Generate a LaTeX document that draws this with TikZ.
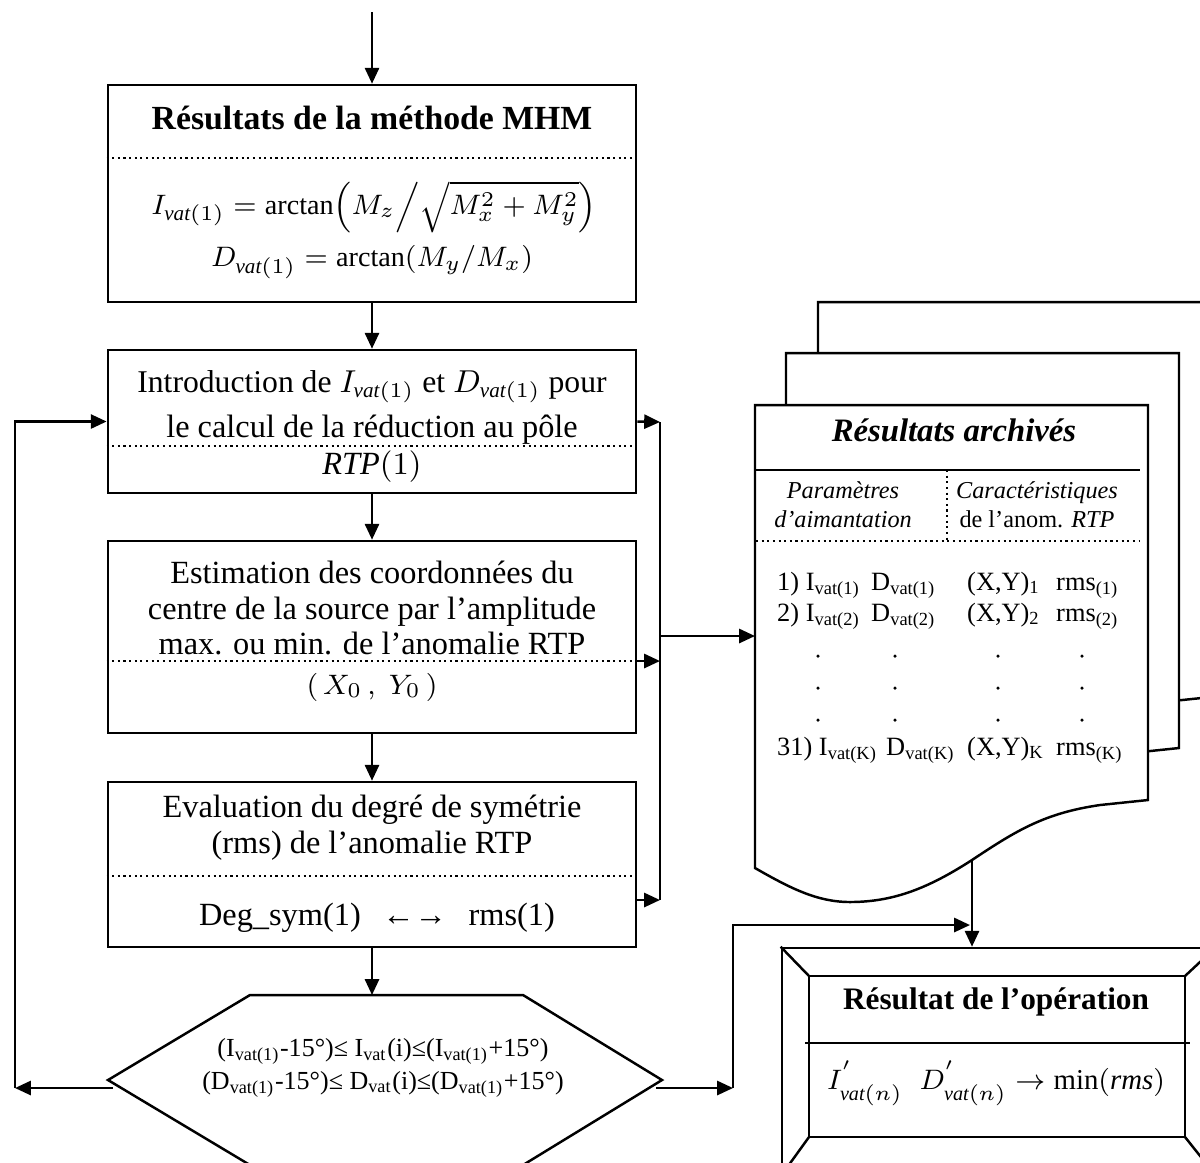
\documentclass[tikz,border=0pt]{standalone}
\usepackage{amsmath}
\usepackage{amssymb}
\usepackage{fontspec}
\setmainfont{Liberation Serif}
\usepackage{tikz}
\usetikzlibrary{arrows.meta}

\begin{document}
\begin{tikzpicture}[x=0.01cm, y=-0.01cm, line width=0.7pt,
  font=\fontsize{9.2}{10.2}\selectfont,
  procbox/.style={draw, minimum width=5.28cm, inner sep=0pt},
  divider/.style={line width=0.6pt, densely dotted},
  link/.style={-{Triangle[length=4.5pt,width=4pt]}},
  headfont/.style={font=\fontsize{9.6}{11}\selectfont\bfseries},
  mathfont/.style={font=\fontsize{8}{10}\selectfont},
  rowcell/.style={anchor=base west, inner sep=0pt, font=\fontsize{7.5}{9}\selectfont}]
  \useasboundingbox (0,0) rectangle (1200,1162);
  \clip (0,0) rectangle (1200,1162);

  % left column -- processing boxes
  \node[procbox, minimum height=2.17cm] (mhm) at (372,193.5) {};
  \draw[divider] (mhm.west |- 0,158) -- (mhm.east |- 0,158);
  \node[headfont] (mhmtitle) at (372,118) {Résultats de la méthode MHM};
  \node[mathfont] (mhmI) at (374,207) {$I_{\mathit{vat}(1)} = \arctan\!\left(M_z\middle/\sqrt{M_x^2+M_y^2}\right)$};
  \node[mathfont] (mhmD) at (372,262) {$D_{\mathit{vat}(1)} = \arctan(M_y/M_x)$};

  \node[procbox, minimum height=1.43cm] (intro) at (372,421.5) {};
  \draw[divider] (intro.west |- 0,446) -- (intro.east |- 0,446);
  \node[font=\fontsize{9}{10.2}\selectfont] (introA) at (372,387) {Introduction de $I_{\mathit{vat}(1)}$ et $D_{\mathit{vat}(1)}$ pour};
  \node (introB) at (372,430) {le calcul de la réduction au pôle};
  \node (introC) at (372,467) {$\mathit{RTP}(1)$};

  \node[procbox, minimum height=1.92cm] (estim) at (372,637) {};
  \draw[divider] (estim.west |- 0,661) -- (estim.east |- 0,661);
  \node[align=center] (estimA) at (372,608) {Estimation des coordonnées du\\centre de la source par l’amplitude\\max. ou min. de l’anomalie RTP};
  \node[mathfont] (estimB) at (372,687) {$(\,X_0\,,\;Y_0\,)$};

  \node[procbox, minimum height=1.65cm] (evalsym) at (372,864.5) {};
  \draw[divider] (evalsym.west |- 0,876) -- (evalsym.east |- 0,876);
  \node[align=center] (evalA) at (372,828) {Evaluation du degré de symétrie\\(rms) de l’anomalie RTP};
  \node (evalB) at (377,918) {Deg\_sym(1) \ \,←→\ \, rms(1)};

  % test on the inclination / declination range
  \draw (250,995) coordinate (hexN) -- (523,995) -- (662,1080) -- (523,1165) -- (250,1165) -- (108,1080) -- cycle;
  \coordinate (hexL) at (113,1088);
  \coordinate (hexR) at (656,1088);
  \node[font=\fontsize{7.4}{9.3}\selectfont, align=center] (cond) at (383,1068)
    {(I\textsubscript{vat(1)}-15°)≤ I\textsubscript{vat}(i)≤(I\textsubscript{vat(1)}+15°)\\
     (D\textsubscript{vat(1)}-15°)≤ D\textsubscript{vat}(i)≤(D\textsubscript{vat(1)}+15°)};

  % stacked sheets of archived results
  \foreach \dx/\dy in {63/-103, 31/-52, 0/0}
    \draw[fill=white, shift={(755+\dx,405+\dy)}] (0,0) -- (393,0) -- (393,395) -- (345,400)
      .. controls (290,408) and (262,425) .. (217,455)
      .. controls (175,482) and (140,497) .. (95,497)
      .. controls (62,497) and (35,483) .. (0,463) -- cycle;
  \coordinate (docin) at (755,636);
  \coordinate (docout) at (972,859);
  \node[font=\fontsize{9.3}{11}\selectfont\bfseries\itshape] (archtitle) at (954,430) {Résultats archivés};
  \draw (756,470) -- (1140,470);
  \draw[divider] (947,470) -- (947,541);
  \draw[divider] (756,541) -- (1140,541);
  \node[font=\fontsize{6.9}{8.2}\selectfont\itshape, align=center] (paramhd) at (843,505) {Paramètres\\d’aimantation};
  \node[font=\fontsize{6.9}{8.2}\selectfont, align=center] (carhd) at (1037,505) {\textit{Caractéristiques}\\de l’anom. \textit{RTP}};
  \foreach \n/\k/\yy/\xd in {1/1/590/870, 2/2/621/870, 31/K/755/885} {
    \node[rowcell] (rowI\n) at (776,\yy) {\n) I\textsubscript{vat(\k)}};
    \node[rowcell] (rowD\n) at (\xd,\yy) {D\textsubscript{vat(\k)}};
    \node[rowcell] (rowX\n) at (966,\yy) {(X,Y)\textsubscript{\k}};
    \node[rowcell] (rowR\n) at (1055,\yy) {rms\textsubscript{(\k)}};
  }
  \foreach \yy in {656, 688, 720}
    \foreach \xx in {818, 895, 998, 1082}
      \fill (\xx,\yy) circle (0.5pt);

  % final result frame
  \node[draw, minimum width=4.33cm, minimum height=2.27cm, inner sep=0pt] (res) at (998.5,1061.5) {};
  \draw (809,976) rectangle (1185,1137);
  \draw (res.north west) -- (809,976);
  \draw (res.south west) -- (809,1137);
  \draw (res.north east) -- (1185,976);
  \draw (res.south east) -- (1185,1137);
  \draw (805,1043) -- (1190,1043);
  \node[font=\fontsize{8.9}{11}\selectfont\bfseries] (restitle) at (996,1002) {Résultat de l’opération};
  \node[font=\fontsize{8.2}{10}\selectfont] (resform) at (996,1083) {$I^{'}_{\mathit{vat}(n)}\;\; D^{'}_{\mathit{vat}(n)} \rightarrow \min(\mathit{rms})$};

  % connectors
  \coordinate (entry) at (372,12);
  \draw[link] (entry) -- (mhm.north);
  \draw[link] (mhm.south) -- (intro.north);
  \draw[link] (intro.south) -- (estim.north);
  \draw[link] (estim.south) -- (evalsym.north);
  \draw[link] (evalsym.south) -- (evalsym.south |- hexN);

  \coordinate (loopL) at (15,1088);
  \draw[link] (hexL) -- (loopL);
  \draw[link] (loopL) |- (intro.west);

  \coordinate (busT) at (660,422);
  \coordinate (busM) at (660,661);
  \coordinate (busB) at (660,900);
  \coordinate (busO) at (660,636);
  \draw[link] (intro.east) -- (busT);
  \draw[link] (estim.east |- busM) -- (busM);
  \draw[link] (evalsym.east |- busB) -- (busB);
  \draw (busT) -- (busB);
  \draw[link] (busO) -- (docin);

  \coordinate (loopR) at (733,1088);
  \coordinate (merge) at (970,925);
  \draw[link] (hexR) -- (loopR);
  \draw[link] (loopR) |- (merge);
  \draw[link] (docout) -- (docout |- res.north);
\end{tikzpicture}
\end{document}
